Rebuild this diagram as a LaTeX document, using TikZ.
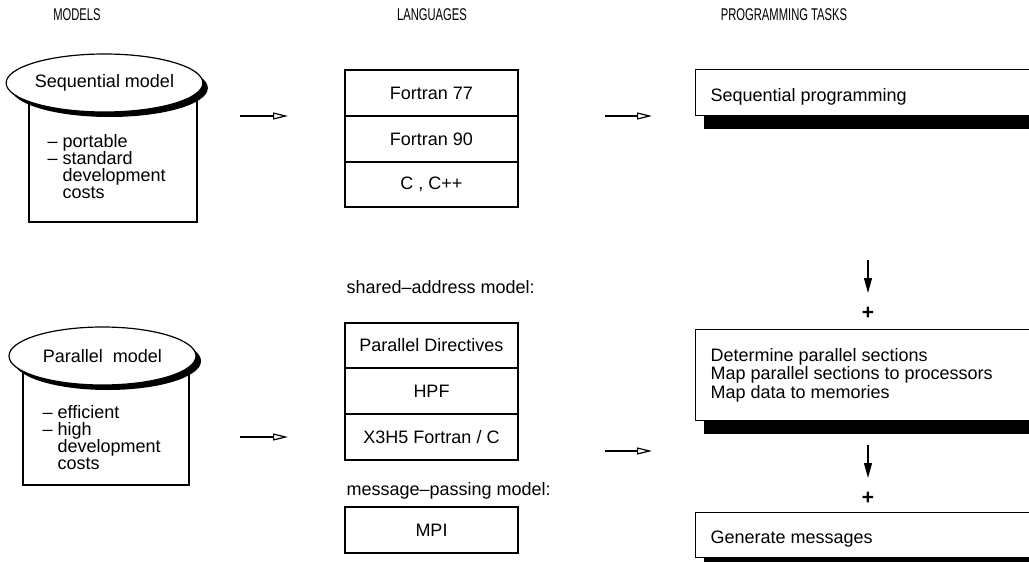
\documentclass[tikz,border=0pt]{standalone}
\usepackage{fontspec}
\setmainfont{Liberation Sans}
\newfontfamily\hdrfont[FakeStretch=0.66]{Liberation Sans}
\usetikzlibrary{arrows.meta,shadows,shapes.geometric}
\begin{document}
\begin{tikzpicture}[x=1pt,y=-1pt,line width=1.2pt,
  dg/.style={font=\fontsize{18}{18}\selectfont},
  hdr/.style={font=\hdrfont\fontsize{17}{17}\selectfont},
  txt/.style={dg,anchor=base west,inner sep=0pt},
  lbl/.style={dg,anchor=west,inner sep=0pt},
  cell/.style={dg,draw,fill=white,minimum width=173pt,minimum height=46pt,inner sep=0pt},
  modelbox/.style={draw,fill=white,inner sep=0pt},
  modelell/.style={dg,draw,fill=white,ellipse,inner sep=0pt,
    drop shadow={shadow xshift=5pt,shadow yshift=-5pt,fill=black,opacity=1}},
  taskbox/.style={draw,fill=white,anchor=north west,minimum width=360pt,inner sep=0pt,
    drop shadow={shadow xshift=8pt,shadow yshift=-13pt,fill=black,opacity=1}},
  harrow/.style={-{Triangle[open,length=15pt,width=7pt]}},
  varrow/.style={-{Triangle[length=15pt,width=8pt]}},
  plus/.style={font=\bfseries\fontsize{21}{21}\selectfont,inner sep=0pt}]
\useasboundingbox (0,0) rectangle (1029,562);
\clip (0,0) rectangle (1029,562);

% headers
\node[hdr] (hmodels) at (77,15) {MODELS};
\node[hdr] (hlang) at (432,15) {LANGUAGES};
\node[hdr] (htasks) at (784,15) {PROGRAMMING TASKS};

% sequential model
\node[modelbox,minimum width=168pt,minimum height=138pt] (seqbox) at (113,153) {};
\node[modelell,minimum width=183pt,minimum height=58pt] (seqmodel) at (104.5,83) {Sequential model};
\node[txt] (s1) at (47,147.5) {– portable};
\node[txt] (s2) at (47,164.5) {– standard};
\node[txt] (s3) at (47,181.5) {\hphantom{– }development};
\node[txt] (s4) at (47,198.5) {\hphantom{– }costs};

% parallel model
\node[modelbox,minimum width=166pt,minimum height=129pt] (parbox) at (106,420.5) {};
\node[modelell,minimum width=187pt,minimum height=58pt] (parmodel) at (102.5,356) {Parallel\ \ model};
\node[txt] (p1) at (42,418) {– efficient};
\node[txt] (p2) at (42,435) {– high};
\node[txt] (p3) at (42,452) {\hphantom{– }development};
\node[txt] (p4) at (42,469) {\hphantom{– }costs};

% languages (sequential)
\node[cell] (f77) at (431.5,93) {Fortran 77};
\node[cell] (f90) at (431.5,139) {Fortran 90};
\node[cell,minimum height=45pt] (cpp) at (431.5,184.5) {C , C++};

% languages (parallel)
\node[lbl] (shared) at (346,287) {shared–address model:};
\node[cell,minimum height=45pt] (pdir) at (431.5,345.5) {Parallel Directives};
\node[cell] (hpf) at (431.5,391) {HPF};
\node[cell] (x3h5) at (431.5,437) {X3H5 Fortran / C};
\node[lbl] (msgpass) at (346,491) {message–passing model:};
\node[cell] (mpi) at (431.5,530) {MPI};

% programming tasks
\node[taskbox,minimum height=46pt] (seqprog) at (695,69) {};
\node[txt] (seqprogt) at (710,101) {Sequential programming};
\node[taskbox,minimum height=91pt] (partask) at (695,329) {};
\node[txt] (t1) at (710,361) {Determine parallel sections};
\node[txt] (t2) at (710,379.5) {Map parallel sections to processors};
\node[txt] (t3) at (710,398) {Map data to memories};
\node[taskbox,minimum height=45pt] (genmsg) at (695,512) {};
\node[txt] (genmsgt) at (710,543) {Generate messages};

% plus signs
\node[plus] (plus1) at (868,313) {+};
\node[plus] (plus2) at (868,498) {+};

% arrows
\coordinate (a1s) at (240,116); \coordinate (a1e) at (288,116);
\coordinate (a2s) at (605,116); \coordinate (a2e) at (652,116);
\coordinate (a3s) at (240,437); \coordinate (a3e) at (288,437);
\coordinate (a4s) at (605,451); \coordinate (a4e) at (652,451);
\coordinate (v1s) at (868,260); \coordinate (v1e) at (868,293);
\coordinate (v2s) at (868,445); \coordinate (v2e) at (868,478);
\draw[harrow] (a1s) -- (a1e);
\draw[harrow] (a2s) -- (a2e);
\draw[harrow] (a3s) -- (a3e);
\draw[harrow] (a4s) -- (a4e);
\draw[varrow] (v1s) -- (v1e);
\draw[varrow] (v2s) -- (v2e);
\end{tikzpicture}
\end{document}
